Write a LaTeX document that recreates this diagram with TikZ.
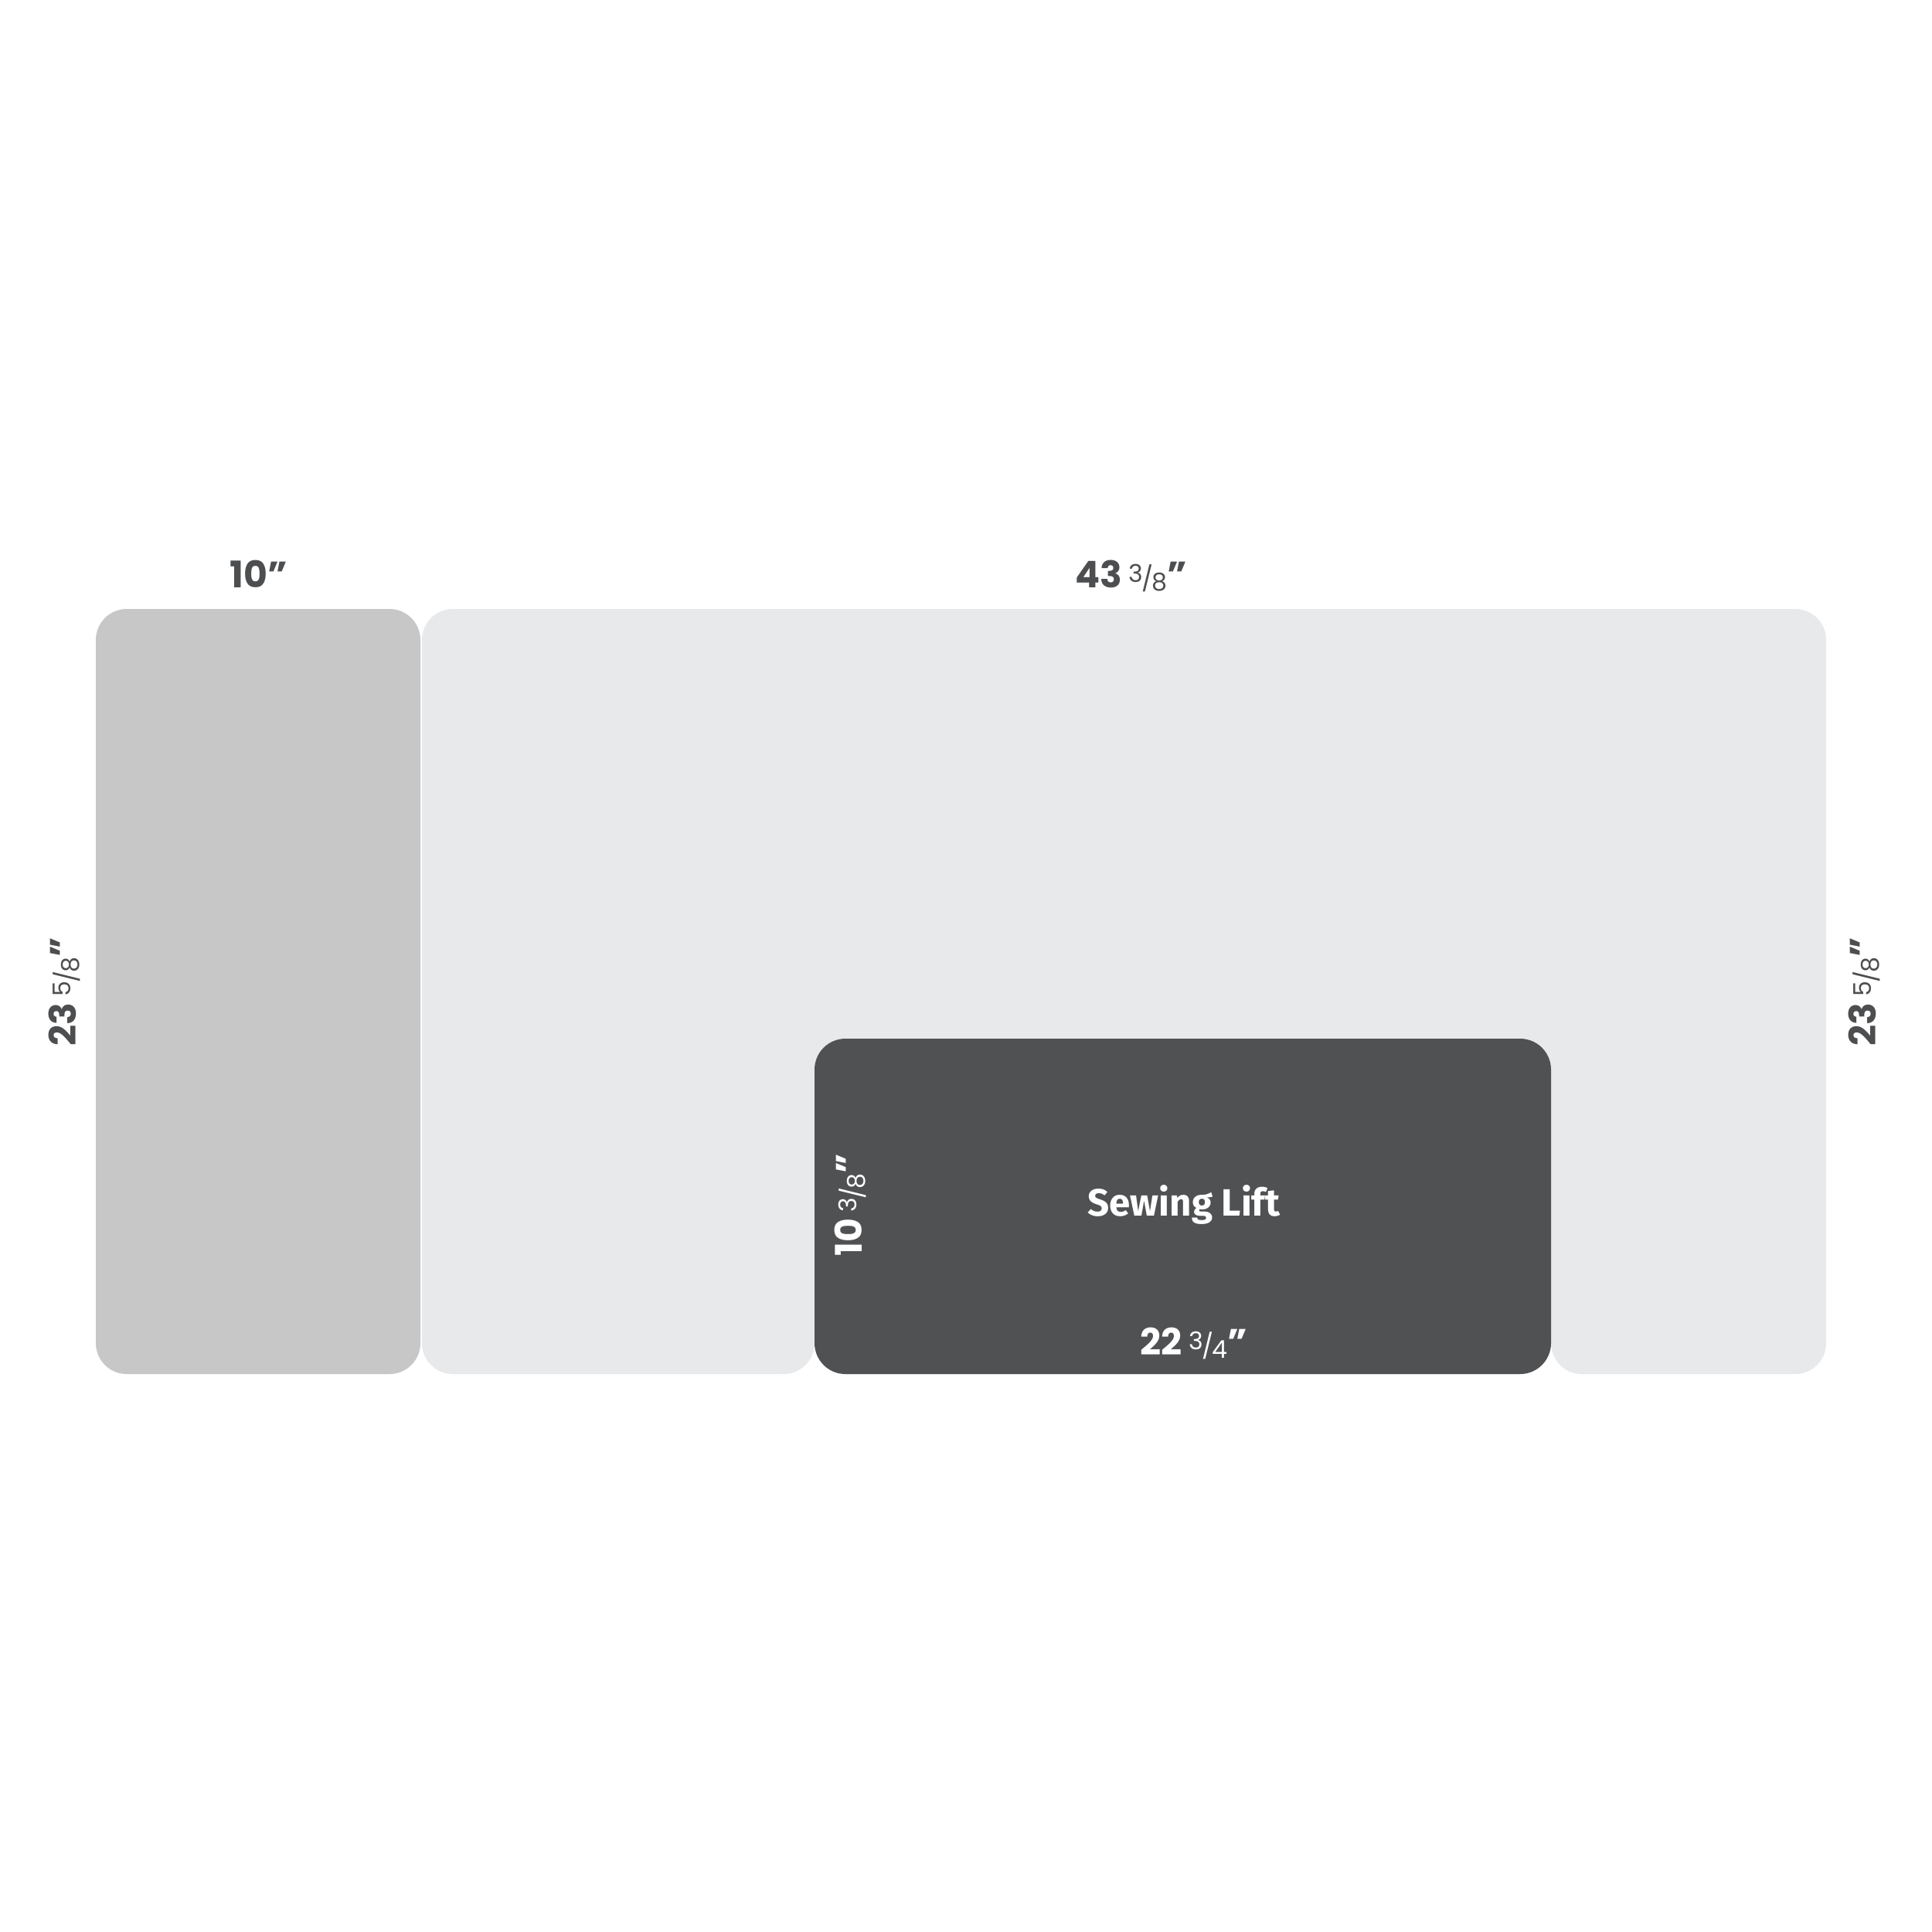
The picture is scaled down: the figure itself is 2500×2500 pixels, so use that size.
\documentclass[tikz,border=0pt]{standalone}
\usepackage{fontspec}
\setmainfont{Poppins}
\newfontfamily\liftfont{Fira Sans}
\definecolor{dimgray}{HTML}{4D4E50}
\definecolor{sidegray}{HTML}{C7C7C7}
\definecolor{topgray}{HTML}{E8E9EB}
\definecolor{liftgray}{HTML}{505153}
\newcommand{\frc}[2]{\,{\fontsize{9}{9}\selectfont\mdseries\raisebox{0.35ex}{#1}\kern-0.05em/\kern-0.05em\raisebox{-0.25ex}{#2}}}
\tikzset{
    dim/.style={font=\fontsize{13.5}{13.5}\selectfont\bfseries, text=dimgray, inner sep=0pt},
    dimw/.style={dim, text=white},
}
\begin{document}
\begin{tikzpicture}[x=0.01cm, y=-0.01cm]
    \useasboundingbox[fill=white] (0,0) rectangle (2500,2500);
        \fill[sidegray, rounded corners=0.4cm] (124,788) rectangle (544,1778);
        \fill[topgray, rounded corners=0.4cm] (546,788) -- (2363,788) -- (2363,1778) -- (2007,1778) -- (2007,1344) -- (1054,1344) -- (1054,1778) -- (546,1778) -- cycle;
        \fill[liftgray, rounded corners=0.4cm] (1054,1344) rectangle (2007,1778);
        
        \node[dim] (side) at (335,743) {10"};
        \node[dim] (top) at (1464,745) {43\frc{3}{8}"};
        \node[dim, rotate=90] (leftdepth) at (83,1283) {23\frc{5}{8}"};
        \node[dim, rotate=90] (rightdepth) at (2412,1283) {23\frc{5}{8}"};
        \node[dimw, font=\liftfont\fontsize{14}{14}\selectfont\bfseries] (lift) at (1532,1559) {Sewing Lift};
        \node[dimw, rotate=90] (liftdepth) at (1100,1559) {10\frc{3}{8}"};
        \node[dimw] (liftwidth) at (1545,1738) {22\frc{3}{4}"};
\end{tikzpicture}
\end{document}
